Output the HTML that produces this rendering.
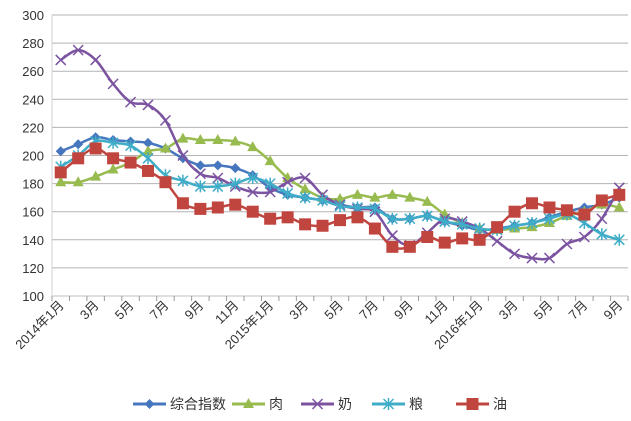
<!DOCTYPE html>
<html><head><meta charset="utf-8"><style>
body{margin:0;background:#fff;}
svg{display:block;font-family:"Liberation Sans","Noto Sans CJK SC",sans-serif;}
</style></head><body>
<svg id="chart" width="631" height="421" viewBox="0 0 631 421"></svg>
<script>
const categories = ["2014年1月","2","3月","4","5月","6","7月","8","9月","10","11月","12","2015年1月","2","3月","4","5月","6","7月","8","9月","10","11月","12","2016年1月","2","3月","4","5月","6","7月","8","9月"];
const composite = [203,208,213,211,210,209,205,198,193,193,191,186,177,172,170,168,165,163,163,155,155,157,153,150,147,148,150,152,156,160,163,165,170];
const meat = [181,181,185,190,195,203,205,212,211,211,210,206,196,184,176,170,169,172,170,172,170,167,158,152,148,147,148,149,152,157,160,165,163];
const milk = [268,275,268,251,238,236,225,200,187,184,178,174,174,181,184,172,165,162,160,143,136,145,155,153,148,139,130,127,127,137,142,155,177];
const grain = [192,200,210,209,207,198,186,182,178,178,180,184,180,173,170,168,164,163,162,155,155,157,153,151,148,147,150,152,155,158,152,144,140];
const oil = [188,198,205,198,195,189,181,166,162,163,165,160,155,156,151,150,154,156,148,135,135,142,138,141,140,149,160,166,163,161,158,168,172];
const yTicks = [100,120,140,160,180,200,220,240,260,280,300];
const seriesNames = ["综合指数","肉","奶","粮","油"];

const NS="http://www.w3.org/2000/svg";
const svg=document.getElementById('chart');
const L=52,R=628,T=15,B=296;
const step=(R-L)/categories.length;
const x=i=>L+step*(i+0.5);
const y=v=>B-(v-100)/200*(B-T);
function mk(tag,attrs,parent){const e=document.createElementNS(NS,tag);for(const k in attrs)e.setAttribute(k,attrs[k]);(parent||svg).appendChild(e);return e;}

yTicks.forEach(v=>{
  const g=mk('line',{x1:L,x2:R,y1:y(v),y2:y(v),stroke:v===100?'#bfbfbf':'#b3b3b3','stroke-width':1});
  
  
  const t=mk('text',{x:L-8,y:y(v)+5,'text-anchor':'end','font-size':13,fill:'#333'});
  t.textContent=v;
  
  
});
const ya=mk('line',{x1:L,x2:L,y1:T,y2:B,stroke:'#d0d0d0'});


for(let i=0;i<=categories.length;i++){
  const tk=mk('line',{x1:L+step*i,x2:L+step*i,y1:B,y2:B+5,stroke:'#999'});
  
  
}
categories.forEach((c,i)=>{
  if(i%2) return;
  const t=mk('text',{x:x(i)+4,y:B+10,'text-anchor':'end','font-size':13,fill:'#333',transform:`rotate(-45 ${x(i)+4} ${B+10})`});
  t.textContent=c;
  
  
});

function marker(kind,cx,cy,color,parent){
  let e;
  if(kind==='diamond') e=mk('polygon',{points:`${cx},${cy-5} ${cx+5},${cy} ${cx},${cy+5} ${cx-5},${cy}`,fill:color},parent);
  else if(kind==='tri') e=mk('polygon',{points:`${cx},${cy-6} ${cx+5.5},${cy+4} ${cx-5.5},${cy+4}`,fill:color},parent);
  else if(kind==='x') e=mk('path',{d:`M${cx-5} ${cy-5}L${cx+5} ${cy+5}M${cx+5} ${cy-5}L${cx-5} ${cy+5}`,stroke:color,'stroke-width':1.5,fill:'none'},parent);
  else if(kind==='star') e=mk('path',{d:`M${cx-5} ${cy-5}L${cx+5} ${cy+5}M${cx+5} ${cy-5}L${cx-5} ${cy+5}M${cx} ${cy-6}L${cx} ${cy+6}`,stroke:color,'stroke-width':1.5,fill:'none'},parent);
  else e=mk('rect',{x:cx-6,y:cy-6,width:12,height:12,fill:color},parent);
  return e;
}
function smooth(pts){
  let d=`M${pts[0][0]} ${pts[0][1]}`;
  for(let i=0;i<pts.length-1;i++){
    const p0=pts[i-1]||pts[i],p1=pts[i],p2=pts[i+1],p3=pts[i+2]||p2;
    const c1=[p1[0]+(p2[0]-p0[0])/6,p1[1]+(p2[1]-p0[1])/6];
    const c2=[p2[0]-(p3[0]-p1[0])/6,p2[1]-(p3[1]-p1[1])/6];
    d+=`C${c1[0]} ${c1[1]} ${c2[0]} ${c2[1]} ${p2[0]} ${p2[1]}`;
  }
  return d;
}
const series=[
 {name:'composite',data:composite,color:'#4677be',m:'diamond'},
 {name:'meat',data:meat,color:'#98bb50',m:'tri'},
 {name:'milk',data:milk,color:'#7b53a0',m:'x'},
 {name:'grain',data:grain,color:'#3fadc8',m:'star'},
 {name:'oil',data:oil,color:'#c0453f',m:'square'}
];
series.forEach(s=>{
  const g=mk('g',{});
  
  
  const p=mk('path',{d:smooth(s.data.map((v,i)=>[x(i),y(v)])),fill:'none',stroke:s.color,'stroke-width':2.5,'stroke-linejoin':'round'},g);
  
  
  s.data.forEach((v,i)=>{
    const m=marker(s.m,x(i),y(v),s.color,g);
    
    
  });
});
const lx=[133,232,301,372,456];
series.forEach((s,i)=>{
  const g=mk('g',{});
  
  
  mk('line',{x1:lx[i],x2:lx[i]+33,y1:404,y2:404,stroke:s.color,'stroke-width':3},g);
  marker(s.m,lx[i]+16.5,404,s.color,g);
  const t=mk('text',{x:lx[i]+37,y:409,'font-size':14,fill:'#333'},g);
  t.textContent=seriesNames[i];
});
</script>
</body></html>
